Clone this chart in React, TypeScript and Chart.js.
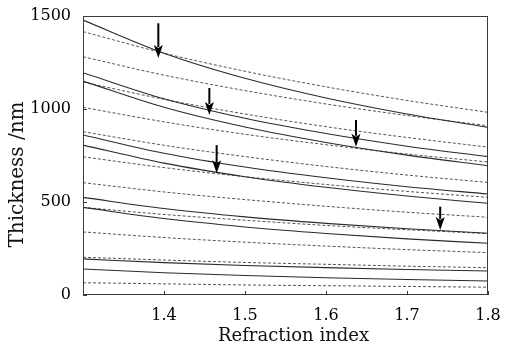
import { useEffect, useRef } from 'react';
import { Chart, registerables } from 'chart.js';

Chart.register(...registerables);

// Refraction index sample positions
const X_VALUES = [1.3, 1.4, 1.5, 1.6, 1.7, 1.8];

// Solid curves (thickness in nm at each X_VALUES entry)
const SOLID_CURVES = [
  [1478, 1300, 1165, 1059, 973, 901],
  [1195, 1055, 950, 868, 800, 744],
  [1150, 1009, 903, 820, 752, 695],
  [860, 762, 688, 630, 582, 543],
  [806, 709, 636, 579, 532, 493],
  [525, 465, 420, 385, 356, 332],
  [471, 411, 366, 331, 302, 278],
  [194, 174, 159, 147, 137, 129],
  [140, 120, 105, 93, 83, 75],
];

// Dashed curves
const DASHED_CURVES = [
  [1416, 1300, 1203, 1119, 1046, 982],
  [1281, 1182, 1099, 1027, 965, 910],
  [1145, 1052, 973, 905, 847, 795],
  [1009, 931, 864, 808, 758, 715],
  [878, 805, 744, 691, 645, 605],
  [743, 685, 636, 594, 557, 525],
  [604, 554, 513, 477, 445, 418],
  [471, 433, 402, 374, 351, 330],
  [339, 309, 284, 263, 244, 228],
  [203, 188, 175, 165, 155, 147],
  [66, 60, 54, 50, 46, 42],
];

// Arrows: x position, top of shaft, tip (data units)
const ARROW_X = [1.393, 1.456, 1.637, 1.465, 1.741];
const ARROW_TOP = [1461, 1113, 941, 806, 475];
const ARROW_TIP = [1274, 968, 797, 654, 349];

const X_TICK_LABELS = ['1.4', '1.5', '1.6', '1.7', '1.8'];
const Y_TICKS = [0, 500, 1000, 1500];

const X_TITLE = 'Refraction index';
const Y_TITLE = 'Thickness /nm';

const FONT = "'DejaVu Serif', serif";

export default function App() {
  const ref = useRef<HTMLCanvasElement>(null);

  useEffect(() => {
    document.body.style.margin = '0';
    const canvas = ref.current!;

    const toPoints = (arr: number[]) => arr.map((y, i) => ({ x: X_VALUES[i], y }));

    const datasets: any[] = [
      ...SOLID_CURVES.map((c, i) => ({
        label: 'solid' + i,
        data: toPoints(c),
        borderColor: '#2a2a2a',
        borderWidth: 1.1,
        pointRadius: 0,
        fill: false,
        cubicInterpolationMode: 'monotone',
      })),
      ...DASHED_CURVES.map((c, i) => ({
        label: 'dashed' + i,
        data: toPoints(c),
        borderColor: '#555',
        borderWidth: 1,
        borderDash: [3, 2],
        pointRadius: 0,
        fill: false,
        cubicInterpolationMode: 'monotone',
      })),
    ];

    const decor = {
      id: 'decor',
      afterDatasetsDraw(chart: any) {
        const { ctx, chartArea, scales } = chart;
        const xs = scales.x;
        const ys = scales.y;
        ctx.save();
        // frame
        ctx.strokeStyle = '#3a3a3a';
        ctx.lineWidth = 1;
        ctx.strokeRect(
          Math.round(chartArea.left) + 0.5,
          Math.round(chartArea.top) + 0.5,
          Math.round(chartArea.right - chartArea.left) - 1,
          Math.round(chartArea.bottom - chartArea.top) - 1
        );
        // inner ticks
        ctx.beginPath();
        X_TICK_LABELS.forEach((t) => {
          const px = Math.round(xs.getPixelForValue(parseFloat(t))) + 0.5;
          ctx.moveTo(px, chartArea.bottom);
          ctx.lineTo(px, chartArea.bottom - 4);
        });
        Y_TICKS.forEach((v) => {
          const py = Math.round(ys.getPixelForValue(v)) + 0.5;
          ctx.moveTo(chartArea.left, py);
          ctx.lineTo(chartArea.left + 4, py);
        });
        ctx.stroke();
        // arrows
        ctx.fillStyle = '#000';
        ctx.strokeStyle = '#000';
        ARROW_X.forEach((ax, i) => {
          const px = xs.getPixelForValue(ax);
          const top = ys.getPixelForValue(ARROW_TOP[i]);
          const tip = ys.getPixelForValue(ARROW_TIP[i]);
          const head = 13;
          ctx.lineWidth = 2;
          ctx.beginPath();
          ctx.moveTo(px, top);
          ctx.lineTo(px, tip - head + 2);
          ctx.stroke();
          ctx.beginPath();
          ctx.moveTo(px, tip);
          ctx.lineTo(px - 4.5, tip - head);
          ctx.lineTo(px, tip - head + 3);
          ctx.lineTo(px + 4.5, tip - head);
          ctx.closePath();
          ctx.fill();
        });
        // axis titles
        ctx.fillStyle = '#111';
        ctx.font = `18px ${FONT}`;
        ctx.textAlign = 'center';
        ctx.textBaseline = 'alphabetic';
        ctx.fillText(X_TITLE, (chartArea.left + chartArea.right) / 2 + 8, 341);
        ctx.save();
        ctx.font = `20px ${FONT}`;
        ctx.translate(18, (chartArea.top + chartArea.bottom) / 2 + 19);
        ctx.rotate(-Math.PI / 2);
        ctx.textBaseline = 'middle';
        ctx.fillText(Y_TITLE, 0, 0);
        ctx.restore();
        ctx.restore();
      },
    };

    const chart = new Chart(canvas, {
      type: 'line',
      data: { datasets },
      plugins: [decor],
      options: {
        responsive: false,
        animation: false,
        devicePixelRatio: 1,
        layout: { padding: { left: 0, top: 16, right: 26, bottom: 0 } },
        plugins: { legend: { display: false }, tooltip: { enabled: false } },
        elements: { point: { radius: 0 } },
        scales: {
          x: {
            type: 'linear',
            min: 1.3,
            max: 1.8,
            grid: { display: false },
            border: { display: false },
            afterBuildTicks: (s: any) => {
              s.ticks = X_TICK_LABELS.map((t) => ({ value: parseFloat(t) }));
            },
            ticks: {
              font: { family: FONT, size: 16 },
              color: '#000',
              padding: 3,
              maxRotation: 0,
              autoSkip: false,
              callback: (v: any) => Number(v).toFixed(1),
            },
            afterFit: (s: any) => {
              s.height = 53;
            },
          },
          y: {
            type: 'linear',
            min: 0,
            max: 1500,
            grid: { display: false },
            border: { display: false },
            afterBuildTicks: (s: any) => {
              s.ticks = Y_TICKS.map((v) => ({ value: v }));
            },
            ticks: {
              font: { family: FONT, size: 16 },
              color: '#000',
              padding: 4,
              callback: (v: any) => String(v),
            },
            afterFit: (s: any) => {
              s.width = 83;
            },
          },
        },
      },
    });
    return () => chart.destroy();
  }, []);

  return (
    <div style={{ width: 514, height: 348 }}>
      <canvas ref={ref} width={514} height={348} style={{ display: 'block' }} />
    </div>
  );
}
